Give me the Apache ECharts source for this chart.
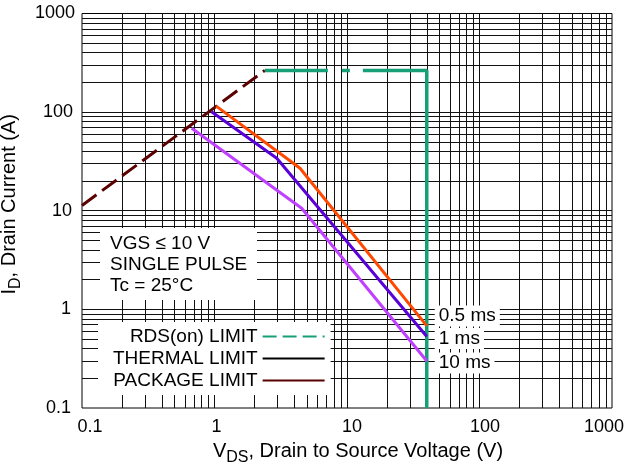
<!DOCTYPE html>
<html>
<head>
<meta charset="utf-8">
<script src="https://cdn.jsdelivr.net/npm/echarts@6/dist/echarts.min.js"></script>
<style>
  html, body { margin: 0; padding: 0; background: #fff; }
  #chart { width: 627px; height: 463px; }
</style>
</head>
<body>
<div id="chart"></div>
<script>
// Axis decades (log scale, both axes)
const xTicks = [0.1, 1, 10, 100, 1000];
const yTicks = [0.1, 1, 10, 100, 1000];

// Safe operating area boundaries: drain-source voltage (V) vs drain current (A)
const packageV = [0.1, 2.4];
const packageI = [11.3, 265];
const rdsV = [2.4, 40, 40];
const rdsI = [265, 265, 0.1];
const pulse05V = [1.03, 4.42, 40];
const pulse05I = [115, 27.0, 0.68];
const pulse1V = [0.95, 2.95, 40];
const pulse1I = [101, 34.1, 0.53];
const pulse10V = [0.673, 4.55, 40];
const pulse10I = [68.7, 10.6, 0.30];

const legendNames = ['RDS(on) LIMIT', 'THERMAL LIMIT', 'PACKAGE LIMIT'];
const pulseNames = ['0.5 ms', '1 ms', '10 ms'];
const conditionLines = ['VGS \u2264 10 V', 'SINGLE PULSE', 'Tc = 25\u00B0C'];

const FONT = 'Liberation Sans, Arial, sans-serif';

// log-paper grid: 1..9 within every decade, interior lines only
function logGrid(ticks) {
  const out = [];
  for (let i = 0; i < ticks.length - 1; i++) {
    for (let k = 1; k <= 9; k++) {
      const v = +(ticks[i] * k).toPrecision(6);
      if (v > ticks[0] && v < ticks[ticks.length - 1]) out.push(v);
    }
  }
  return out;
}
const gridX = logGrid(xTicks);
const gridY = logGrid(yTicks);

const pairs = (xs, ys) => xs.map((x, i) => [x, ys[i]]);
const tickIndex = (ticks, v) =>
  ticks.findIndex(t => Math.abs(Math.log10(t) - Math.log10(v)) < 1e-6);

// decade labels are nudged individually (rich padding) so the end ones sit inside the frame
const xLabelStyles = ['x0', 'x1', 'x2', 'x3', 'x4'];
const yLabelStyles = ['y0', 'y1', 'y2', 'y3', 'y4'];
function tickLabel(ticks, styles) {
  return (v) => {
    const i = tickIndex(ticks, v);
    return i < 0 ? '' : '{' + styles[i] + '|' + ticks[i] + '}';
  };
}
const labelText = { fontSize: 18, color: '#000', fontFamily: FONT };

function pulseSeries(name, xs, ys, color, dy) {
  return {
    name, type: 'line', z: 3, data: pairs(xs, ys),
    symbol: 'none', silent: true,
    lineStyle: { color, width: 3 },
    endLabel: {
      show: true, formatter: name, distance: 8, offset: [0, dy],
      color: '#000', fontSize: 19, fontFamily: FONT,
      backgroundColor: '#fff', padding: [1, 4, 1, 4]
    }
  };
}

const chart = echarts.init(document.getElementById('chart'), null, { renderer: 'canvas' });
chart.setOption({
  animation: false,
  textStyle: { fontFamily: FONT },
  grid: {
    left: 82, right: 15, top: 13.5, bottom: 55,
    outerBoundsMode: 'none', containLabel: false,
    show: true, borderColor: '#000', borderWidth: 1
  },
  xAxis: {
    type: 'log', logBase: 10, min: 0.1, max: 1000,
    axisLine: { show: false }, axisTick: { show: false }, splitLine: { show: false },
    axisLabel: {
      margin: 10, formatter: tickLabel(xTicks, xLabelStyles),
      rich: {
        x0: Object.assign({ padding: [0, 0, 0, 16] }, labelText),
        x1: Object.assign({ padding: [0, 0, 0, 4] }, labelText),
        x2: Object.assign({ padding: [0, 0, 0, 10] }, labelText),
        x3: Object.assign({ padding: [0, 0, 0, 11] }, labelText),
        x4: Object.assign({ padding: [0, 16, 0, 0] }, labelText)
      }
    },
    name: '{m|V}{s|DS}{m|, Drain to Source Voltage (V)}',
    nameLocation: 'middle', nameGap: 28,
    nameTextStyle: {
      padding: [0, 0, 0, 22],
      rich: {
        m: { fontSize: 20, lineHeight: 30, color: '#000', fontFamily: FONT },
        s: { fontSize: 16, lineHeight: 30, verticalAlign: 'bottom', color: '#000', fontFamily: FONT }
      }
    }
  },
  yAxis: {
    type: 'log', logBase: 10, min: 0.1, max: 1000,
    axisLine: { show: false }, axisTick: { show: false }, splitLine: { show: false },
    axisLabel: {
      margin: 7, formatter: tickLabel(yTicks, yLabelStyles),
      rich: {
        y0: Object.assign({ padding: [0, 4, 0, 0] }, labelText),
        y1: Object.assign({ padding: [0, 4, 0, 0] }, labelText),
        y2: Object.assign({ padding: [0, 3, 0, 0] }, labelText),
        y3: Object.assign({ padding: [0, 2, 0, 0] }, labelText),
        y4: Object.assign({ padding: [0, 0, 0, 0] }, labelText)
      }
    },
    name: '{m|I}{s|D}{m|, Drain Current (A)}',
    nameLocation: 'middle', nameGap: 47,
    nameTextStyle: {
      padding: [0, 0, 0, 13],
      rich: {
        m: { fontSize: 20, lineHeight: 30, color: '#000', fontFamily: FONT },
        s: { fontSize: 16, lineHeight: 30, verticalAlign: 'bottom', color: '#000', fontFamily: FONT }
      }
    }
  },
  legend: {
    orient: 'vertical', left: 98, top: 322, align: 'right',
    itemWidth: 62, itemHeight: 14, itemGap: 3,
    padding: [5, 5, 5, 15], backgroundColor: '#fff',
    selectedMode: false,
    itemStyle: { opacity: 0 },
    textStyle: { fontSize: 19, color: '#000', fontFamily: FONT },
    data: [
      { name: legendNames[0], lineStyle: { type: [14, 6] } },
      { name: legendNames[1] },
      { name: legendNames[2], lineStyle: { type: 'solid' } }
    ]
  },
  graphic: [
    { type: 'rect', z: 2, shape: { x: 100, y: 228, width: 157, height: 72 }, style: { fill: '#fff' } },
    {
      type: 'text', z: 2, x: 110, y: 233.5,
      style: { text: conditionLines.join('\n'), fontSize: 19, fontFamily: FONT, lineHeight: 21, fill: '#000', verticalAlign: 'top' }
    }
  ],
  series: [
    {
      name: 'grid', type: 'line', z: 1, data: [], silent: true,
      markLine: {
        z: 1, silent: true, symbol: 'none', animation: false,
        label: { show: false },
        lineStyle: { color: '#111', width: 1, type: 'solid' },
        emphasis: { disabled: true },
        data: gridX.map(v => ({ xAxis: v })).concat(gridY.map(v => ({ yAxis: v })))
      }
    },
    {
      name: legendNames[1], type: 'line', z: 3, data: [], symbol: 'none',
      lineStyle: { color: '#000', width: 3 }, itemStyle: { color: '#000' }
    },
    {
      name: legendNames[2], type: 'line', z: 3, data: pairs(packageV, packageI),
      symbol: 'none', silent: true,
      lineStyle: { color: '#5a0000', width: 3, type: [18, 7] }, itemStyle: { color: '#5a0000' }
    },
    {
      name: legendNames[0], type: 'line', z: 3, data: pairs(rdsV, rdsI),
      symbol: 'none', silent: true,
      lineStyle: { color: '#17a077', width: 3.5, type: [63, 14, 8, 13, 600, 0] }, itemStyle: { color: '#17a077' }
    },
    pulseSeries(pulseNames[0], pulse05V, pulse05I, '#ff4800', -10),
    pulseSeries(pulseNames[1], pulse1V, pulse1I, '#5a00d8', 2),
    pulseSeries(pulseNames[2], pulse10V, pulse10I, '#c040ff', 2)
  ]
});
</script>
</body>
</html>
